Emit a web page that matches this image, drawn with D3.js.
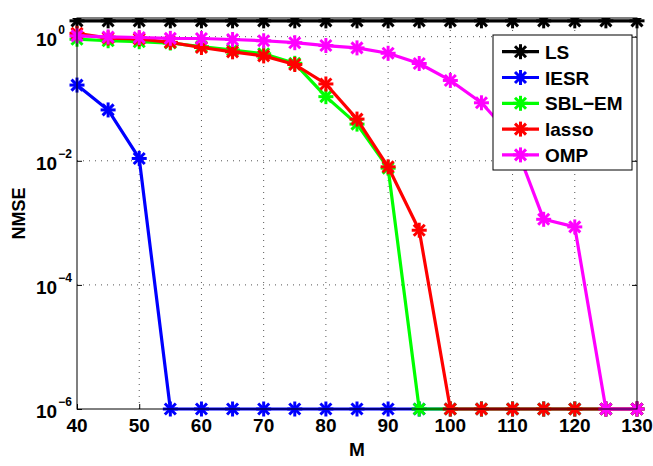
<!DOCTYPE html>
<html>
<head>
<meta charset="utf-8">
<script src="https://cdn.jsdelivr.net/npm/d3@7"></script>
<style>
  body { margin: 0; background: #fff; }
  text { font-family: "Liberation Sans", Arial, sans-serif; font-weight: bold; fill: #000; }
</style>
</head>
<body>
<div id="container"></div>
<script>
// values (NMSE vs M, log scale)
const M = [40, 45, 50, 55, 60, 65, 70, 75, 80, 85, 90, 95, 100, 105, 110, 115, 120, 125, 130]
const LS = [1.8, 1.8, 1.8, 1.8, 1.8, 1.8, 1.8, 1.8, 1.8, 1.8, 1.8, 1.8, 1.8, 1.8, 1.8, 1.8, 1.8, 1.8, 1.8]
const IESR = [0.166, 0.066, 0.0109, 1e-6, 1e-6, 1e-6, 1e-6, 1e-6, 1e-6, 1e-6, 1e-6, 1e-6, 1e-6, 1e-6, 1e-6, 1e-6, 1e-6, 1e-6, 1e-6]
const SBLEM = [0.91, 0.86, 0.83, 0.79, 0.69, 0.61, 0.53, 0.372, 0.108, 0.039, 0.0076, 1e-6, 1e-6, 1e-6, 1e-6, 1e-6, 1e-6, 1e-6, 1e-6]
const lasso = [1.13, 0.95, 0.92, 0.81, 0.67, 0.57, 0.49, 0.356, 0.173, 0.047, 0.008, 0.00076, 1e-6, 1e-6, 1e-6, 1e-6, 1e-6, 1e-6, 1e-6]
const OMP = [1.03, 0.99, 0.97, 0.94, 0.935, 0.90, 0.86, 0.80, 0.72, 0.66, 0.54, 0.37, 0.197, 0.086, 0.0237, 0.00114, 0.00086, 1e-6, 1e-6]

const seriesNames = ["LS", "IESR", "SBL\u2212EM", "lasso", "OMP"]
const seriesValues = [LS, IESR, SBLEM, lasso, OMP]
const seriesColours = ["#000000", "#0000ff", "#00ff00", "#ff0000", "#ff00ff"]

const xTicks = [40, 50, 60, 70, 80, 90, 100, 110, 120, 130]
const yTicks = [1e-6, 1e-4, 1e-2, 1e0]
const yTickExp = ["\u22126", "\u22124", "\u22122", "0"]

const width = 653, height = 466
const plot = { left: 77, right: 637, top: 18, bottom: 409 }

const svg = d3.select("#container").append("svg")
  .attr("width", width)
  .attr("height", height)

const x = d3.scaleLinear().domain([40, 130]).range([plot.left, plot.right])
const y = d3.scaleLog().domain([1e-6, 2]).range([plot.bottom, plot.top])

// dotted grid
svg.append("g").selectAll("line")
  .data(xTicks.slice(1, -1))
  .enter().append("line")
    .attr("x1", d => x(d)).attr("x2", d => x(d))
    .attr("y1", plot.top).attr("y2", plot.bottom)
    .attr("stroke", "#555").attr("stroke-width", 1).attr("stroke-dasharray", "1,5")
svg.append("g").selectAll("line")
  .data(yTicks.slice(1))
  .enter().append("line")
    .attr("x1", plot.left).attr("x2", plot.right)
    .attr("y1", d => y(d)).attr("y2", d => y(d))
    .attr("stroke", "#555").attr("stroke-width", 1).attr("stroke-dasharray", "1,5")

// axes with inward ticks on all four sides
const tl = 5
svg.append("g").attr("transform", `translate(0,${plot.bottom})`)
  .call(d3.axisBottom(x).tickValues(xTicks).tickSize(-tl).tickFormat(""))
svg.append("g").attr("transform", `translate(0,${plot.top})`)
  .call(d3.axisTop(x).tickValues(xTicks).tickSize(-tl).tickFormat(""))
svg.append("g").attr("transform", `translate(${plot.left},0)`)
  .call(d3.axisLeft(y).tickValues(yTicks).tickSize(-tl).tickFormat(""))
svg.append("g").attr("transform", `translate(${plot.right},0)`)
  .call(d3.axisRight(y).tickValues(yTicks).tickSize(-tl).tickFormat(""))
svg.selectAll(".domain").remove()
svg.selectAll(".tick line").attr("stroke", "#000")

// clip so the lines stay in the box
svg.append("clipPath").attr("id", "clip").append("rect")
  .attr("x", plot.left - 10).attr("y", plot.top)
  .attr("width", plot.right - plot.left + 20).attr("height", plot.bottom - plot.top + 10)

const line = d3.line().x((d, i) => x(M[i])).y(d => y(d))

// asterisk marker like matlab's '*'
function star(g, cx, cy, colour) {
  const r = 7.5, rd = 5.5
  const segs = [[-r, 0, r, 0], [0, -r, 0, r], [-rd, -rd, rd, rd], [-rd, rd, rd, -rd]]
  segs.forEach(s => {
    g.append("line")
      .attr("x1", cx + s[0]).attr("y1", cy + s[1])
      .attr("x2", cx + s[2]).attr("y2", cy + s[3])
      .attr("stroke", colour).attr("stroke-width", 3)
  })
}

const lines = svg.append("g").attr("clip-path", "url(#clip)")
seriesValues.forEach((vals, k) => {
  const g = lines.append("g")
  g.append("path")
    .datum(vals)
    .attr("d", line)
    .attr("fill", "none")
    .attr("stroke", seriesColours[k])
    .attr("stroke-width", 3.2)
    .attr("stroke-linejoin", "round")
  vals.forEach((v, i) => star(g, x(M[i]), y(v), seriesColours[k]))
})

// frame
svg.append("rect")
  .attr("x", plot.left).attr("y", plot.top)
  .attr("width", plot.right - plot.left).attr("height", plot.bottom - plot.top)
  .attr("fill", "none").attr("stroke", "#000").attr("stroke-width", 1)

// tick labels
svg.append("g").selectAll("text")
  .data(xTicks)
  .enter().append("text")
    .attr("x", d => x(d)).attr("y", 432)
    .attr("text-anchor", "middle")
    .style("font-size", "19px")
    .text(d => d)

const ylab = svg.append("g").selectAll("text")
  .data(yTicks)
  .enter().append("text")
    .attr("x", 36).attr("y", d => y(d) + 9)
    .style("font-size", "19px")
ylab.append("tspan").text("10")
ylab.append("tspan")
  .attr("dy", -12).attr("dx", 1)
  .style("font-size", "12px")
  .text((d, i) => yTickExp[i])

svg.append("text")
  .attr("x", (plot.left + plot.right) / 2).attr("y", 456)
  .attr("text-anchor", "middle")
  .style("font-size", "19px")
  .text("M")

svg.append("text")
  .attr("transform", `translate(25,${(plot.top + plot.bottom) / 2}) rotate(-90)`)
  .attr("text-anchor", "middle")
  .style("font-size", "18px")
  .text("NMSE")

// legend
const leg = svg.append("g")
leg.append("rect")
  .attr("x", 493).attr("y", 35).attr("width", 139).attr("height", 135)
  .attr("fill", "#fff").attr("stroke", "#000").attr("stroke-width", 1)
seriesNames.forEach((name, k) => {
  const ly = 51.7 + k * 25.8
  leg.append("line")
    .attr("x1", 502).attr("x2", 539).attr("y1", ly).attr("y2", ly)
    .attr("stroke", seriesColours[k]).attr("stroke-width", 3.2)
  star(leg, 520.5, ly, seriesColours[k])
  leg.append("text")
    .attr("x", 545).attr("y", ly + 7)
    .style("font-size", "19px")
    .text(name)
})
</script>
</body>
</html>
